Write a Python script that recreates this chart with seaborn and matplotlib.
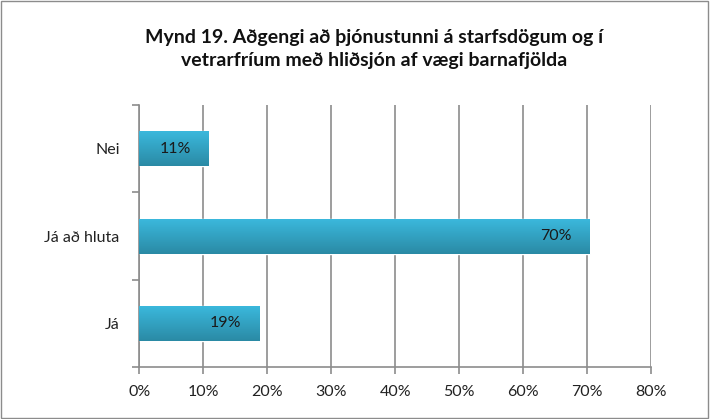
import numpy as np
import pandas as pd
import matplotlib
matplotlib.use("Agg")
import matplotlib.pyplot as plt
from matplotlib.patches import Rectangle
import seaborn as sns

# data
categories = ["Nei", "Já að hluta", "Já"]
values = [10.9, 70.4, 18.8]
labels = ["11%", "70%", "19%"]
title = "Mynd 19. Aðgengi að þjónustunni á starfsdögum og í\nvetrarfríum með hliðsjón af vægi barnafjölda"

df = pd.DataFrame({"svar": categories, "hlutfall": values})

sns.set_theme(style="white")
plt.rcParams["font.family"] = ["Lato", "DejaVu Sans"]

fig = plt.figure(figsize=(7.1, 4.19), dpi=100)
ax = fig.add_axes([0.196, 0.124, 0.721, 0.625])

sns.barplot(data=df, x="hlutfall", y="svar", orient="h", color="#2fa7c8",
            width=0.4, ax=ax)

# gradient fill on each bar
grad = np.linspace(0, 1, 100).reshape(-1, 1)
cmap = matplotlib.colors.LinearSegmentedColormap.from_list("bar", ["#3bb8dc", "#2a8aa5"])
for p in ax.patches:
    x0, y0 = p.get_x(), p.get_y()
    w, h = p.get_width(), p.get_height()
    im = ax.imshow(grad, extent=[x0, x0 + w, y0 + h, y0], cmap=cmap,
                   aspect="auto", zorder=3, origin="upper")
    im.set_clip_path(p)
    p.set_zorder(2)

for p, lab in zip(ax.patches, labels):
    ax.annotate(lab, (p.get_x() + p.get_width(), p.get_y() + p.get_height() / 2),
                xytext=(-13, 0), textcoords="offset points", ha="right",
                va="center", fontsize=11.5, color="#1a1a1a", zorder=4)

ax.set_xlim(0, 80)
ax.set_ylim(2.5, -0.5)
ax.set_xticks(range(0, 81, 10))
ax.set_xticklabels([f"{t}%" for t in range(0, 81, 10)], fontsize=11.5, color="#222222")
ax.set_yticks([0, 1, 2])
ax.set_yticklabels(categories, fontsize=11.5, color="#222222")
ax.set_xlabel("")
ax.set_ylabel("")

ax.grid(axis="x", color="#8c8c8c", linewidth=1.2)
ax.set_axisbelow(True)
for s in ["top", "right"]:
    ax.spines[s].set_visible(False)
for s in ["left", "bottom"]:
    ax.spines[s].set_color("#8c8c8c")
    ax.spines[s].set_linewidth(1.2)

# y ticks between categories, x ticks below
ax.set_yticks([-0.5, 0.5, 1.5, 2.5], minor=True)
ax.tick_params(axis="y", which="major", length=0, pad=14)
ax.tick_params(axis="y", which="minor", length=5, color="#8c8c8c", width=1.2, left=True)
ax.tick_params(axis="x", length=5, color="#8c8c8c", width=1.2, bottom=True, pad=8)

fig.suptitle(title, fontsize=14, fontweight="bold", x=0.527, y=0.93, color="#111111",
             linespacing=1.4)

fig.patches.append(Rectangle((0.002, 0.002), 0.995, 0.995, transform=fig.transFigure,
                             fill=False, edgecolor="#8c8c8c", linewidth=1))

fig.savefig("out.png", dpi=100)
